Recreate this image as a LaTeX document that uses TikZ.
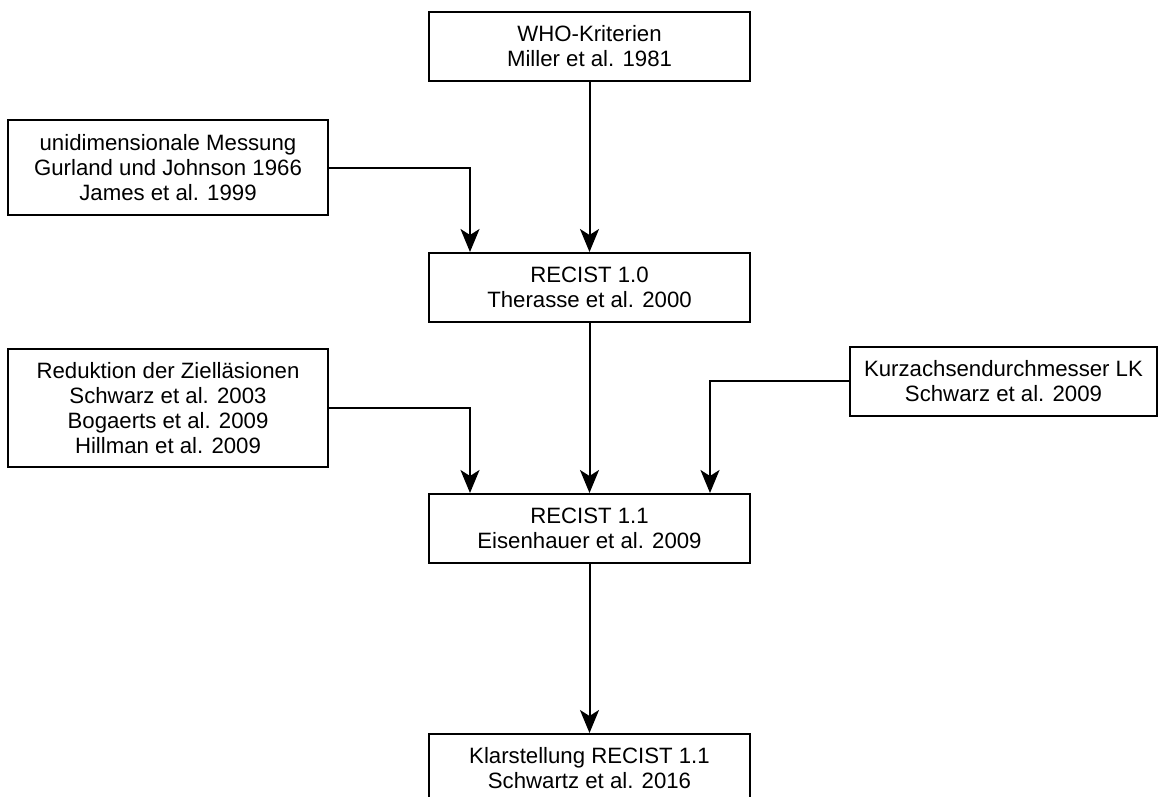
\documentclass[tikz,border=0pt]{standalone}
\usepackage{fontspec}
\setmainfont{Liberation Sans}
\usetikzlibrary{arrows.meta}
\begin{document}
\begin{tikzpicture}[x=1pt,y=-1pt,
  box/.style={draw=black, line width=2pt, fill=white, align=center,
    inner sep=0pt, font=\fontsize{22.2}{25}\selectfont},
  link/.style={line width=2pt, -{Stealth[length=23pt,width=19pt,inset=6pt]}}]
\useasboundingbox (0,0) rectangle (1165,796);
\fill[white] (0,0) rectangle (1165,796);
% main chain
\node[box, minimum width=321pt, minimum height=69pt] (who) at (589.5,46.5)
  {WHO-Kriterien\\Miller et al. 1981};
\node[box, minimum width=321pt, minimum height=69pt] (r10) at (589.5,287.5)
  {RECIST 1.0\\Therasse et al. 2000};
\node[box, minimum width=321pt, minimum height=69pt] (r11) at (589.5,528.5)
  {RECIST 1.1\\Eisenhauer et al. 2009};
\node[box, minimum width=321pt, minimum height=69pt] (klar) at (589.5,768.5)
  {Klarstellung RECIST 1.1\\Schwartz et al. 2016};
% contributing work
\node[box, minimum width=320pt, minimum height=95pt] (uni) at (168,167.5)
  {unidimensionale Messung\\Gurland und Johnson 1966\\James et al. 1999};
\node[box, minimum width=320pt, minimum height=118pt] (red) at (168,408)
  {Reduktion der Zielläsionen\\Schwarz et al. 2003\\Bogaerts et al. 2009\\Hillman et al. 2009};
\node[box, minimum width=307pt, minimum height=69pt] (kurz) at (1003.5,381)
  {Kurzachsendurchmesser LK\\Schwarz et al. 2009};
% connectors
\coordinate (uniIn) at (470,0);
\coordinate (redIn) at (470,0);
\coordinate (kurzIn) at (710,0);
\draw[link] (who.south) -- (r10.north);
\draw[link] (r10.south) -- (r11.north);
\draw[link] (r11.south) -- (klar.north);
\draw[link] (uni.east) -| (r10.north -| uniIn);
\draw[link] (red.east) -| (r11.north -| redIn);
\draw[link] (kurz.west) -| (r11.north -| kurzIn);
\end{tikzpicture}
\end{document}
